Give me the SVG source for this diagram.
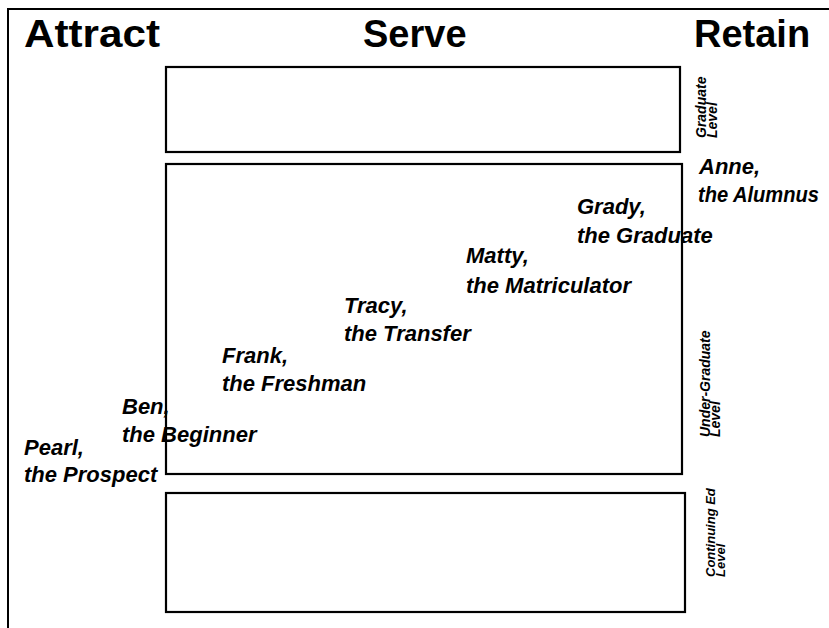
<svg xmlns="http://www.w3.org/2000/svg" width="829" height="628" viewBox="0 0 829 628">
  <style>
    .frame { fill: none; stroke: #000; stroke-width: 2; }
    .box { fill: none; stroke: #000; stroke-width: 2.2; }
    .head { font-family: "Liberation Sans", Arial, sans-serif; font-weight: bold; font-size: 38px; fill: #000; }
    .who { font-family: "Liberation Sans", Arial, sans-serif; font-weight: bold; font-style: italic; font-size: 22px; fill: #000; }
    .lvl { font-family: "Liberation Sans", Arial, sans-serif; font-weight: bold; font-style: italic; font-size: 14px; fill: #000; }
  </style>
  <rect width="829" height="628" fill="#fff"/>

  <!-- outer frame (top and left edges) -->
  <path class="frame" d="M8 628 V9 H829"/>

  <!-- column headings -->
  <g id="headings">
    <text class="head" x="24" y="47" textLength="136" lengthAdjust="spacingAndGlyphs">Attract</text>
    <text class="head" x="363" y="47">Serve</text>
    <text class="head" x="694" y="47">Retain</text>
  </g>

  <!-- level boxes -->
  <g id="graduate-level">
    <rect class="box" x="166" y="67" width="514" height="85"/>
    <text class="lvl" transform="translate(706 138) rotate(-90)">Graduate</text>
    <text class="lvl" transform="translate(717 138) rotate(-90)">Level</text>
  </g>
  <g id="undergraduate-level">
    <rect class="box" x="166" y="164" width="516" height="310"/>
    <text class="lvl" transform="translate(710 437) rotate(-90)">Under-Graduate</text>
    <text class="lvl" transform="translate(720 437) rotate(-90)">Level</text>
  </g>
  <g id="continuing-ed-level">
    <rect class="box" x="166" y="493" width="519" height="119"/>
    <text class="lvl" style="font-size:13px" transform="translate(715 577) rotate(-90)">Continuing Ed</text>
    <text class="lvl" style="font-size:13px" transform="translate(725 577) rotate(-90)">Level</text>
  </g>

  <!-- student personas along the path -->
  <g id="pearl">
    <text class="who" x="24" y="455">Pearl,</text>
    <text class="who" x="24" y="482">the Prospect</text>
  </g>
  <g id="ben">
    <text class="who" x="122" y="414">Ben,</text>
    <text class="who" x="122" y="442">the Beginner</text>
  </g>
  <g id="frank">
    <text class="who" x="222" y="363">Frank,</text>
    <text class="who" x="222" y="391">the Freshman</text>
  </g>
  <g id="tracy">
    <text class="who" x="344" y="313">Tracy,</text>
    <text class="who" x="344" y="341">the Transfer</text>
  </g>
  <g id="matty">
    <text class="who" x="466" y="263">Matty,</text>
    <text class="who" x="466" y="293">the Matriculator</text>
  </g>
  <g id="grady">
    <text class="who" x="577" y="214">Grady,</text>
    <text class="who" x="577" y="243">the Graduate</text>
  </g>
  <g id="anne">
    <text class="who" x="699" y="174">Anne,</text>
    <text class="who" x="698" y="202" textLength="121" lengthAdjust="spacingAndGlyphs">the Alumnus</text>
  </g>
</svg>
